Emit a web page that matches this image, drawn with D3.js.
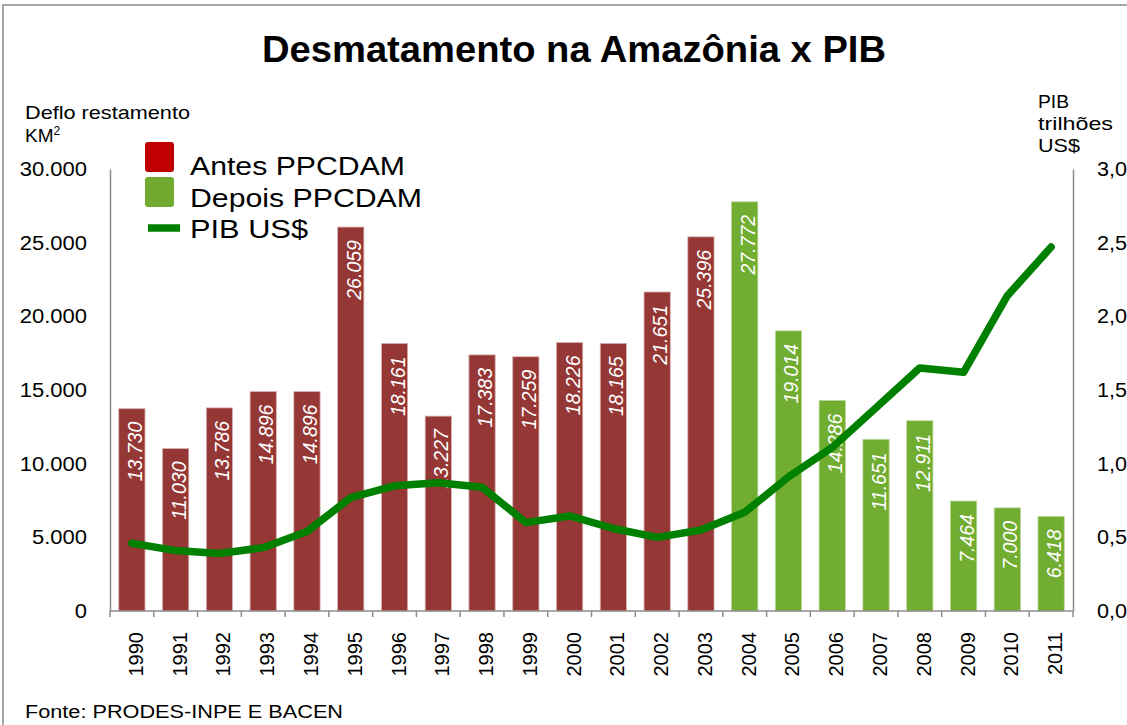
<!DOCTYPE html>
<html>
<head>
<meta charset="utf-8">
<script src="https://cdn.jsdelivr.net/npm/d3@7"></script>
<style>
  html, body { margin: 0; padding: 0; background: #fff; }
  svg { display: block; font-family: "Liberation Sans", Arial, sans-serif; }
</style>
</head>
<body>
<svg id="chart" width="1127" height="725"></svg>
<script>
const years = ["1990","1991","1992","1993","1994","1995","1996","1997","1998","1999","2000","2001","2002","2003","2004","2005","2006","2007","2008","2009","2010","2011"];
const deforestation = [13730,11030,13786,14896,14896,26059,18161,13227,17383,17259,18226,18165,21651,25396,27772,19014,14286,11651,12911,7464,7000,6418];
const phase = ["antes","antes","antes","antes","antes","antes","antes","antes","antes","antes","antes","antes","antes","antes","depois","depois","depois","depois","depois","depois","depois","depois"];
const pib = [0.46,0.41,0.39,0.43,0.54,0.77,0.85,0.87,0.84,0.60,0.645,0.56,0.50,0.55,0.67,0.91,1.11,1.38,1.65,1.62,2.14,2.47];
const leftTicks = [0,5000,10000,15000,20000,25000,30000];
const rightTicks = [0,0.5,1.0,1.5,2.0,2.5,3.0];
const legendItems = ["Antes PPCDAM","Depois PPCDAM","PIB US$"];

(function () {
const svg = d3.select("#chart");
const W = 1127, H = 725;
const pLeft = 110, pRight = 1073, pTop = 169, pBottom = 611;

function stretch(sel, factor) {
  sel.each(function () {
    const len = this.getComputedTextLength();
    d3.select(this).attr("textLength", len * factor).attr("lengthAdjust", "spacingAndGlyphs");
  });
}

// outer border
svg.append("path").attr("d", `M3,${H} L3,5 L${W},5`).attr("fill","none").attr("stroke","#a6a6a6").attr("stroke-width",2);

const x = d3.scaleBand().domain(years).range([pLeft, pRight]).paddingInner(0.4).paddingOuter(0.2);
const xTick = d3.scaleBand().domain(years).range([pLeft, pRight]);
const y = d3.scaleLinear().domain([0, 30000]).range([pBottom, pTop]);
const y2 = d3.scaleLinear().domain([0, 3]).range([pBottom, pTop]);

const fmtThousands = d3.formatLocale({decimal: ",", thousands: ".", grouping: [3], currency: ["",""]}).format(",d");
const fmtDec = v => d3.format(".1f")(v).replace(".", ",");

const colors = {antes: "#953735", depois: "#71ad31"};

// bars
svg.append("g").selectAll("rect").data(years).join("rect")
  .attr("x", d => x(d))
  .attr("width", x.bandwidth())
  .attr("y", (d,i) => y(deforestation[i]))
  .attr("height", (d,i) => y(0) - y(deforestation[i]))
  .attr("fill", (d,i) => colors[phase[i]])
  .attr("stroke", (d,i) => phase[i] === "antes" ? "#d9b3b3" : "#b8d79a")
  .attr("stroke-width", 0.8);

// bar labels
svg.append("g").selectAll("text").data(years).join("text")
  .attr("transform", (d,i) => `translate(${x(d) + x.bandwidth()/2 + 10},${y(deforestation[i]) + 13}) rotate(-90)`)
  .attr("text-anchor", "end")
  .attr("fill", "#fff")
  .attr("font-size", 19.5)
  .attr("font-style", "italic")
  .text((d,i) => fmtThousands(deforestation[i]));

// left axis
const gL = svg.append("g").attr("transform", `translate(${pLeft},0)`)
  .call(d3.axisLeft(y).tickValues(leftTicks).tickSize(0).tickPadding(23).tickFormat(fmtThousands));
gL.select(".domain").attr("stroke", "#8c8c8c").attr("stroke-width", 1.5);
gL.selectAll("text").attr("font-size", 20).attr("fill", "#000").attr("font-family", "Liberation Sans, Arial, sans-serif");
stretch(gL.selectAll("text"), 1.1);

// right axis
const gR = svg.append("g").attr("transform", `translate(${pRight},0)`)
  .call(d3.axisRight(y2).tickValues(rightTicks).tickSize(0).tickPadding(24).tickFormat(fmtDec));
gR.select(".domain").attr("stroke", "#8c8c8c").attr("stroke-width", 1.5);
gR.selectAll("text").attr("font-size", 20).attr("fill", "#000").attr("font-family", "Liberation Sans, Arial, sans-serif");
stretch(gR.selectAll("text"), 1.08);

// bottom axis
const gB = svg.append("g").attr("transform", `translate(0,${pBottom})`);
gB.append("line").attr("x1", pLeft).attr("x2", pRight).attr("stroke", "#8c8c8c").attr("stroke-width", 1.5);
gB.selectAll("line.tick").data(years.concat(["end"])).join("line")
  .attr("class","tick")
  .attr("x1", (d,i) => i < years.length ? xTick(d) : pRight)
  .attr("x2", (d,i) => i < years.length ? xTick(d) : pRight)
  .attr("y1", 0).attr("y2", 6)
  .attr("stroke", "#8c8c8c").attr("stroke-width", 1.5);
gB.selectAll("text").data(years).join("text")
  .attr("transform", d => `translate(${xTick(d) + xTick.bandwidth()/2 + 11},21) rotate(-90)`)
  .attr("text-anchor", "end")
  .attr("font-size", 20)
  .attr("fill", "#000")
  .text(d => d);

// PIB line
const line = d3.line()
  .x((d,i) => x(years[i]) + x.bandwidth()/2)
  .y(d => y2(d));
svg.append("path").datum(pib)
  .attr("d", line)
  .attr("fill", "none")
  .attr("stroke", "#008000")
  .attr("stroke-width", 7.5)
  .attr("stroke-linejoin", "round")
  .attr("stroke-linecap", "round");

// title
svg.append("text").attr("x", 574).attr("y", 62).attr("text-anchor", "middle")
  .attr("font-size", 37.5).attr("font-weight", "bold").attr("fill", "#000")
  .attr("textLength", 624).attr("lengthAdjust", "spacingAndGlyphs")
  .text("Desmatamento na Amazônia x PIB");

// axis titles
svg.append("text").attr("x", 25).attr("y", 119).attr("font-size", 19)
  .attr("textLength", 165).attr("lengthAdjust", "spacingAndGlyphs").text("Deflo restamento");
const km = svg.append("text").attr("x", 25).attr("y", 142).attr("font-size", 19);
km.append("tspan").text("KM");
km.append("tspan").attr("font-size", 12).attr("dy", -7).text("2");

const rt = ["PIB","trilhões","US$"];
const rtLen = [31, 75, 42];
rt.forEach((t,i) => {
  svg.append("text").attr("x", 1038).attr("y", 108 + i*22).attr("font-size", 19)
    .attr("textLength", rtLen[i]).attr("lengthAdjust", "spacingAndGlyphs").text(t);
});

// legend
const lg = svg.append("g");
lg.append("rect").attr("x", 145).attr("y", 142).attr("width", 29).attr("height", 30).attr("rx", 3).attr("fill", "#c00000");
lg.append("rect").attr("x", 145).attr("y", 177).attr("width", 29).attr("height", 30).attr("rx", 3).attr("fill", "#70ab30");
lg.append("line").attr("x1", 148).attr("x2", 180).attr("y1", 228).attr("y2", 228).attr("stroke", "#008000").attr("stroke-width", 7.5);
const legLen = [215, 232, 118];
legendItems.forEach((t,i) => {
  lg.append("text").attr("x", 190).attr("y", 175 + i*31.5).attr("font-size", 26).attr("fill", "#000")
    .attr("textLength", legLen[i]).attr("lengthAdjust", "spacingAndGlyphs").text(t);
});

// source
svg.append("text").attr("x", 25).attr("y", 718).attr("font-size", 18)
  .attr("textLength", 318).attr("lengthAdjust", "spacingAndGlyphs").text("Fonte: PRODES-INPE E BACEN");
})();
</script>
</body>
</html>
